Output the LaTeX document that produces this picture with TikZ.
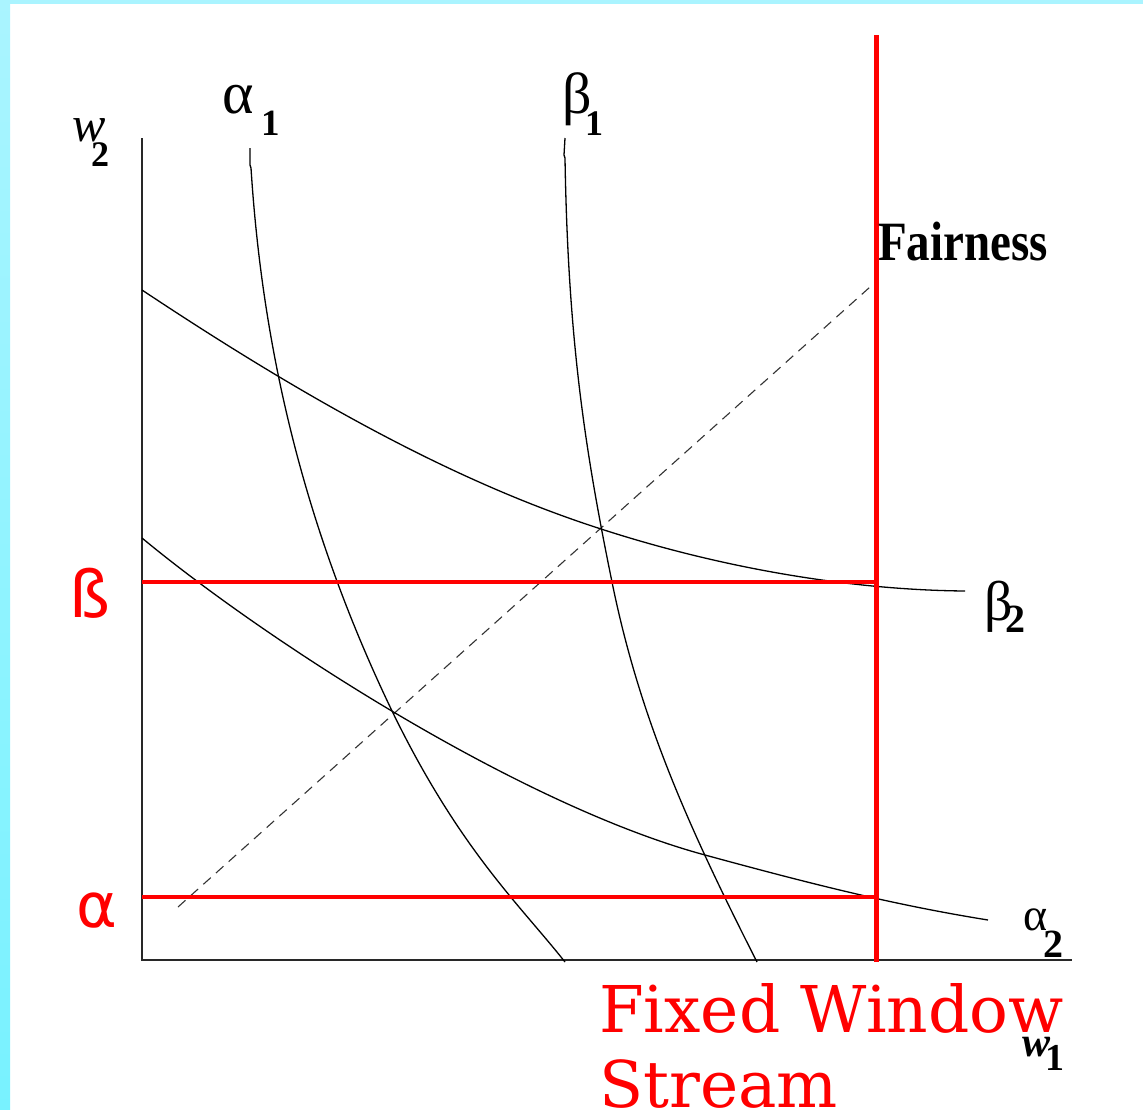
\documentclass[tikz,border=0pt]{standalone}
\usepackage{fontspec}
\setmainfont{Liberation Serif}
\newfontfamily\redserif{DejaVu Serif}
\newfontfamily\redsans{DejaVu Sans}
\definecolor{cyanA}{RGB}{170,244,255}
\definecolor{cyanB}{RGB}{120,242,255}
\definecolor{axisgray}{RGB}{40,40,40}
\begin{document}
\begin{tikzpicture}[x=1pt,y=-1pt,
  curve/.style={draw=black, line width=1.3pt},
  axisline/.style={draw=axisgray, line width=2pt},
  redline/.style={draw=red, line width=3.5pt},
  redaxis/.style={draw=red, line width=5pt},
  dashline/.style={draw=black!80, line width=1.1pt, dash pattern=on 10pt off 7pt},
  lbl/.style={inner sep=0pt, anchor=base west, text=black},
  redlbl/.style={inner sep=0pt, anchor=base west, text=red}]
\useasboundingbox (0,0) rectangle (1143,1109);
\clip (0,0) rectangle (1143,1109);
\fill[white] (0,0) rectangle (1143,1109);
\shade[top color=cyanA, bottom color=cyanB] (0,0) rectangle (10,1109);
\fill[cyanA] (0,0) rectangle (1143,4);

% axes
\coordinate (O) at (142,960);
\coordinate (ytop) at (142,138);
\coordinate (xend) at (1072,960);
\draw[axisline] (ytop) -- (O) -- (xend);

% dashed fairness line
\coordinate (d0) at (178,907);
\coordinate (d1) at (870,287);
\draw[dashline] (d0) -- (d1);

% beta2 curve
\draw[curve] (142,290) .. controls (300,395) and (450,480) .. (598,528)
                       .. controls (720,568) and (850,590) .. (965,591);
% alpha2 curve
\draw[curve] (142,538) .. controls (265,640) and (520,805) .. (705,855)
                       .. controls (815,885) and (895,905) .. (988,920);
% alpha1 curve
\draw[curve] (250,148) -- (250,165) -- (251,168)
             .. controls (262,340) and (300,520) .. (393,713)
             .. controls (460,850) and (520,905) .. (565,962);
% beta1 curve
\draw[curve] (565,138) -- (564,155) -- (565,158)
             .. controls (568,340) and (585,450) .. (612,582)
             .. controls (640,720) and (690,830) .. (757,962);

% red lines
\coordinate (vtop) at (876,35);
\coordinate (vbot) at (876,962);
\coordinate (bL) at (142,582);
\coordinate (bR) at (876,582);
\coordinate (aL) at (142,897);
\coordinate (aR) at (876,897);
\draw[redline] (bL) -- (bR);
\draw[redline] (aL) -- (aR);
\draw[redaxis] (vtop) -- (vbot);

% black labels
\node[lbl, font=\fontsize{50}{50}\selectfont\itshape] (w2a) at (72,141) {w};
\node[lbl, font=\fontsize{36}{36}\selectfont\bfseries] (w2b) at (91,166) {2};
\node[lbl, font=\fontsize{60}{60}\selectfont] (a1a) at (222,113) {α};
\node[lbl, font=\fontsize{37}{37}\selectfont\bfseries] (a1b) at (261,135) {1};
\node[lbl, font=\fontsize{58}{58}\selectfont] (b1a) at (562,113) {β};
\node[lbl, font=\fontsize{36}{36}\selectfont\bfseries] (b1b) at (585,135) {1};
\node[lbl, font=\fontsize{47}{47}\selectfont\bfseries] (fair) at (878,260) {\scalebox{1}[1.18]{Fairness}};
\node[lbl, font=\fontsize{56}{56}\selectfont] (b2a) at (984,620) {β};
\node[lbl, font=\fontsize{40}{40}\selectfont\bfseries] (b2b) at (1005,632) {2};
\node[lbl, font=\fontsize{46}{46}\selectfont] (a2a) at (1023,930) {α};
\node[lbl, font=\fontsize{40}{40}\selectfont\bfseries] (a2b) at (1043,957) {2};
\node[lbl, font=\fontsize{42}{42}\selectfont\itshape\bfseries] (w1a) at (1022,1056) {w};
\node[lbl, font=\fontsize{38}{38}\selectfont\bfseries] (w1b) at (1045,1070) {1};

% red labels
\node[redlbl, font=\redsans\fontsize{65}{65}\selectfont] (bred) at (69,617) {ß};
\node[redlbl, font=\redsans\fontsize{62}{62}\selectfont] (ared) at (76,927) {α};
\node[redlbl, font=\redserif\fontsize{64.5}{64.5}\selectfont] (fw1) at (599,1032) {Fixed Window};
\node[redlbl, font=\redserif\fontsize{64.5}{64.5}\selectfont] (fw2) at (599,1107) {Stream};
\end{tikzpicture}
\end{document}
